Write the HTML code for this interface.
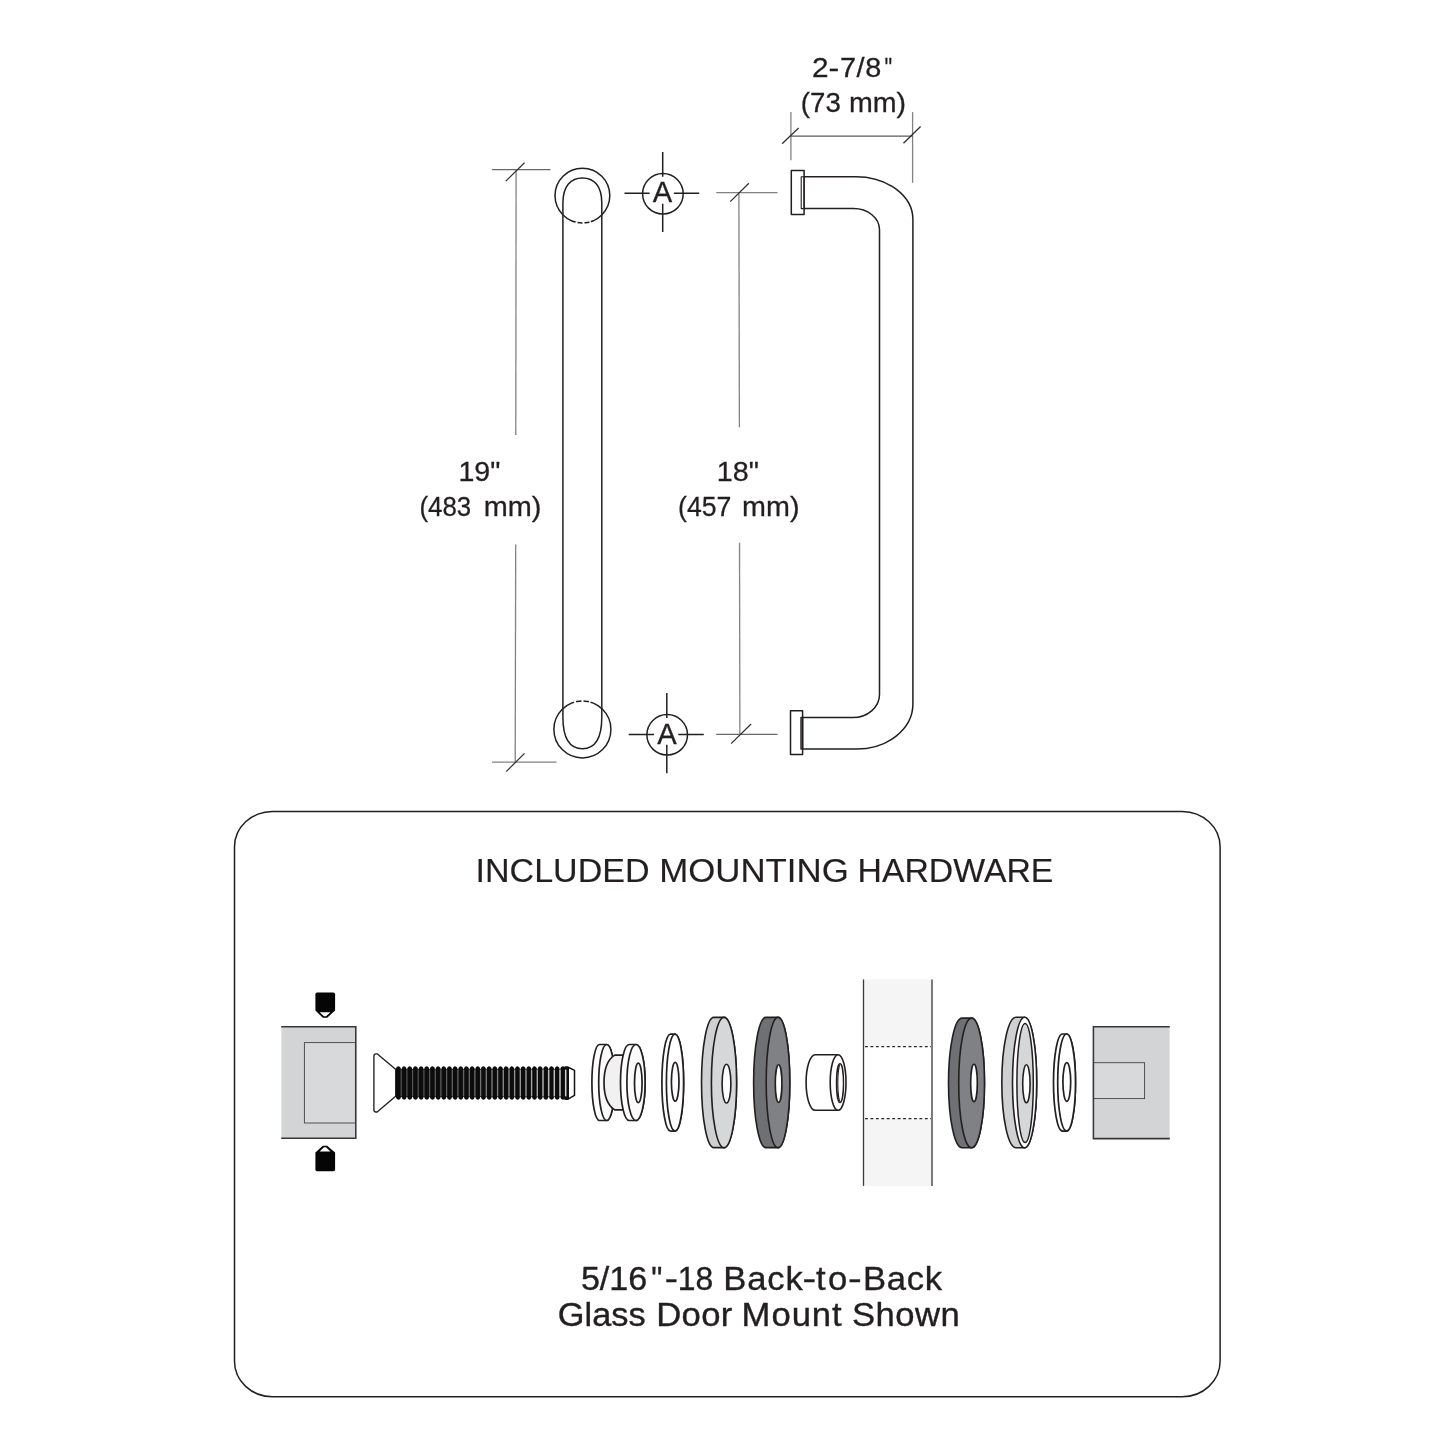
<!DOCTYPE html>
<html>
<head>
<meta charset="utf-8">
<title>Pull Handle Dimensions</title>
<style>
html,body{margin:0;padding:0;background:#fff;}
body{width:1445px;height:1445px;overflow:hidden;font-family:"Liberation Sans",sans-serif;}
svg{display:block;position:absolute;left:0;top:0;will-change:transform;}
text{font-family:"Liberation Sans",sans-serif;fill:#231f20;stroke:#231f20;stroke-width:0.28;}
.dim{stroke:#858183;stroke-width:1.3;fill:none;}
.tick{stroke:#2e2c2d;stroke-width:1.2;fill:none;}
.ol{stroke:#231f20;stroke-width:1.5;fill:none;stroke-linecap:round;stroke-linejoin:round;}
.ol2{stroke:#231f20;stroke-width:1.5;fill:none;}
.t27{font-size:27px;text-anchor:middle;}
</style>
</head>
<body>
<svg width="1445" height="1445" viewBox="0 0 1445 1445">

<!-- ===== TOP DIMENSION 2-7/8" ===== -->
<g id="dim-top">
  <line class="dim" x1="790.9" y1="112.1" x2="790.9" y2="160.3"/>
  <line class="dim" x1="912.6" y1="112.1" x2="912.6" y2="182.8"/>
  <line class="dim" x1="790.9" y1="136.2" x2="912.6" y2="136.2" style="stroke:#5c5a5b"/>
  <line class="tick" x1="782.1" y1="143.8" x2="798.6" y2="128"/>
  <line class="tick" x1="903.5" y1="143.3" x2="920.6" y2="126.5"/>
</g>

<!-- ===== LEFT DIMENSION 19" ===== -->
<g id="dim-19">
  <line class="dim" x1="492.1" y1="169.6" x2="550.4" y2="169.6" style="stroke:#6a6869"/>
  <line class="dim" x1="492" y1="762.1" x2="556.5" y2="762.1"/>
  <line class="dim" x1="516.1" y1="169.6" x2="515.8" y2="435"/>
  <line class="dim" x1="515.7" y1="544.4" x2="515.2" y2="762.1"/>
  <line class="tick" x1="505.8" y1="181.1" x2="524.5" y2="162.7"/>
  <line class="tick" x1="506.2" y1="771.7" x2="524.5" y2="753.3"/>
</g>

<!-- ===== RIGHT DIMENSION 18" ===== -->
<g id="dim-18">
  <line class="dim" x1="716.3" y1="192.7" x2="777.5" y2="192.7"/>
  <line class="dim" x1="716.2" y1="734.4" x2="777.5" y2="734.4" style="stroke:#6a6869"/>
  <line class="dim" x1="738.9" y1="192.7" x2="739.4" y2="427.3"/>
  <line class="dim" x1="739.5" y1="542.7" x2="739.9" y2="734.4"/>
  <line class="tick" x1="730.2" y1="201.6" x2="748.9" y2="183.3"/>
  <line class="tick" x1="731.1" y1="743.6" x2="751.1" y2="724"/>
</g>

<!-- ===== FRONT VIEW HANDLE ===== -->
<g id="front-view">
  <path class="ol" d="M562.9 717 V203 C562.9 186 571 177.9 582.4 177.9 C594 177.9 601.8 186 601.8 203 V717 C601.8 741 593.5 748.7 582.4 748.7 C571.3 748.7 562.9 741 562.9 717 Z" style="fill:#fff"/>
  <circle class="ol" cx="582.4" cy="195.6" r="27.4"/>
  <circle class="ol" cx="582.4" cy="729.4" r="28.5"/>
  <path d="M575.5 222.6 L577.5 223 M582.5 223.3 L584.5 223.2 M589.5 222.4 L591 222" stroke="#fff" stroke-width="2.6" fill="none"/>
  <path d="M574 702 L576 701.5 M581.5 700.8 L583.5 700.8 M589 701.5 L590.5 701.9" stroke="#fff" stroke-width="2.6" fill="none"/>
</g>

<!-- ===== A MARKERS ===== -->
<g id="a-markers">
  <circle class="ol2" cx="662.9" cy="193.8" r="20.3"/>
  <path class="ol2" d="M624.5 193.3 H649.6 M673.9 193.3 H699.2 M662.7 151.9 V176.8 M662.7 203.8 V232"/>
  <text x="662.4" y="202.1" font-size="29.2" text-anchor="middle" style="stroke-width:0.3">A</text>
  <circle class="ol2" cx="667.2" cy="734.8" r="20.3"/>
  <path class="ol2" d="M628.7 734.4 H654 M678.3 734.4 H703.8 M666.8 693.1 V718 M666.8 744.8 V773.2"/>
  <text x="667.05" y="743.8" font-size="29.2" text-anchor="middle" style="stroke-width:0.3">A</text>
</g>

<!-- ===== SIDE VIEW HANDLE ===== -->
<g id="side-view">
  <rect class="ol" x="791.3" y="170.5" width="12.8" height="44"/>
  <rect class="ol" x="801.2" y="176.7" width="2.9" height="31.9" style="stroke-width:1.1"/>
  <rect class="ol" x="790.5" y="710.7" width="12.1" height="43.8"/>
  <rect class="ol" x="801.0" y="717.5" width="1.6" height="31.6" style="stroke-width:1.4"/>
  <path class="ol" d="M804.1 176.7 H855.8 A57 42.8 0 0 1 912.9 219.5 V704 A56.2 45 0 0 1 856.7 749 H802.6"/>
  <path class="ol" d="M804.1 208.6 H853.5 A26 21 0 0 1 879.5 229.6 V694.6 A26.8 23 0 0 1 852.7 717.6 H802.6"/>
</g>

<!-- ===== HARDWARE BOX ===== -->
<g id="hw-box">
  <rect x="234.5" y="811.4" width="985.6" height="585.4" rx="38" ry="35.5" fill="none" stroke="#231f20" stroke-width="1.5"/>
</g>

<g id="labels">
<text transform="translate(812.0 77.4) scale(1.104 1)" font-size="27">2</text>
<text transform="translate(828.6 77.4) scale(1.186 1)" font-size="27">-</text>
<text transform="translate(839.9 77.4) scale(1.070 1)" font-size="27" letter-spacing="0.60">7/8</text>
<text transform="translate(884.6 77.4) scale(0.800 1)" font-size="27">&quot;</text>
<text transform="translate(800.8 112.1) scale(1.025 1)" font-size="27">(73</text>
<text transform="translate(849.0 112.1) scale(1.059 1)" font-size="27">mm)</text>
<text transform="translate(458.4 480.9) scale(1.059 1)" font-size="27">19&quot;</text>
<text transform="translate(419.5 515.9) scale(0.957 1)" font-size="27">(483</text>
<text transform="translate(483.7 515.9) scale(1.069 1)" font-size="27">mm)</text>
<text transform="translate(716.7 480.8) scale(1.065 1)" font-size="27">18&quot;</text>
<text transform="translate(678.1 515.6) scale(0.987 1)" font-size="27">(457</text>
<text transform="translate(742.1 515.6) scale(1.063 1)" font-size="27">mm)</text>
<text transform="translate(475.6 882.3) scale(1.025 1)" font-size="33.2" style="stroke-width:0.15">INCLUDED</text>
<text transform="translate(659.2 882.3) scale(1.049 1)" font-size="33.2" style="stroke-width:0.15">MOUNTING</text>
<text transform="translate(857.5 882.3) scale(1.018 1)" font-size="33.2" style="stroke-width:0.15">HARDWARE</text>
<text transform="translate(580.9 1289.6) scale(1.052 1)" font-size="32.4" style="stroke-width:0.36">5/16</text>
<text transform="translate(651.3 1289.6) scale(0.967 1)" font-size="32.4" style="stroke-width:0.36">&quot;</text>
<text transform="translate(664.8 1289.6) scale(1.224 1)" font-size="32.4" style="stroke-width:0.36">-</text>
<text transform="translate(677.8 1289.6) scale(0.985 1)" font-size="32.4" style="stroke-width:0.36">18</text>
<text transform="translate(723.3 1289.6) scale(1.070 1)" font-size="32.4" letter-spacing="0.74" style="stroke-width:0.36">Back</text>
<text transform="translate(802.6 1289.6) scale(1.261 1)" font-size="32.4" style="stroke-width:0.36">-</text>
<text transform="translate(815.9 1289.6) scale(1.070 1)" font-size="32.4" letter-spacing="2.35" style="stroke-width:0.36">to</text>
<text transform="translate(847.9 1289.6) scale(1.273 1)" font-size="32.4" style="stroke-width:0.36">-</text>
<text transform="translate(863.0 1289.6) scale(1.070 1)" font-size="32.4" letter-spacing="0.61" style="stroke-width:0.36">Back</text>
<text transform="translate(557.8 1325.5) scale(1.060 1)" font-size="32.4" style="stroke-width:0.36">Glass</text>
<text transform="translate(656.3 1325.5) scale(1.070 1)" font-size="32.4" letter-spacing="0.27" style="stroke-width:0.36">Door</text>
<text transform="translate(741.6 1325.5) scale(1.070 1)" font-size="32.4" letter-spacing="0.88" style="stroke-width:0.36">Mount</text>
<text transform="translate(851.9 1325.5) scale(1.070 1)" font-size="32.4" letter-spacing="0.46" style="stroke-width:0.36">Shown</text>
</g>

<!-- HW-START -->
<g id="block-left">
<rect x="281.4" y="1026.8" width="74.4" height="111.4" fill="#d3d4d6"/>
<rect x="304.4" y="1042.6" width="51" height="80.4" fill="#d8d9da" stroke="#454345" stroke-width="0.9"/>
<path d="M281.2 1026.8 H355.8 V1138.2 H281.2" fill="none" stroke="#383637" stroke-width="1.55"/>
</g>
<g id="set-screws">
<path d="M317 992.6 H333.4 Q335.1 992.6 335.1 994.3 V1010.6 L327.2 1017.8 H322.8 L315.4 1010.6 V994.3 Q315.4 992.6 317 992.6 Z" fill="#050505"/>
<path d="M319.6 1012.2 H330.4 L326 1016.2 H324 Z" fill="#fff"/>
<path d="M317 1171.3 H333.4 Q335.1 1171.3 335.1 1169.6 V1152.6 L327.2 1145.7 H322.8 L315.4 1152.6 V1169.6 Q315.4 1171.3 317 1171.3 Z" fill="#050505"/>
<path d="M319.6 1151.4 H330.4 L326 1147.3 H324 Z" fill="#fff"/>
</g>
<g id="screw">
<path d="M373.9 1056 Q373.9 1053.8 376 1053.8 H377.2 L395.9 1069.6 V1096 L377.2 1112 H376 Q373.9 1112 373.9 1109.8 Z" fill="#fff" stroke="#231f20" stroke-width="1.35" stroke-linejoin="round"/>
<path d="M395.4 1069 L395.9 1069 C396.7 1065 400.2 1065.6 401 1069 L401.6 1069 C402.4 1065 405.8 1065.6 406.6 1069 L407.2 1069 C408 1065 411.5 1065.6 412.3 1069 L412.9 1069 C413.7 1065 417.2 1065.6 418 1069 L418.6 1069 C419.4 1065 422.9 1065.6 423.6 1069 L424.2 1069 C425.1 1065 428.5 1065.6 429.3 1069 L429.9 1069 C430.7 1065 434.2 1065.6 435 1069 L435.6 1069 C436.4 1065 439.9 1065.6 440.7 1069 L441.3 1069 C442.1 1065 445.5 1065.6 446.3 1069 L446.9 1069 C447.7 1065 451.2 1065.6 452 1069 L452.6 1069 C453.4 1065 456.9 1065.6 457.7 1069 L458.3 1069 C459.1 1065 462.5 1065.6 463.3 1069 L463.9 1069 C464.7 1065 468.2 1065.6 469 1069 L469.6 1069 C470.4 1065 473.9 1065.6 474.7 1069 L475.3 1069 C476.1 1065 479.6 1065.6 480.3 1069 L480.9 1069 C481.8 1065 485.2 1065.6 486 1069 L486.6 1069 C487.4 1065 490.9 1065.6 491.7 1069 L492.3 1069 C493.1 1065 496.6 1065.6 497.4 1069 L498 1069 C498.8 1065 502.2 1065.6 503 1069 L503.6 1069 C504.4 1065 507.9 1065.6 508.7 1069 L509.3 1069 C510.1 1065 513.6 1065.6 514.4 1069 L515 1069 C515.8 1065 519.2 1065.6 520 1069 L520.6 1069 C521.4 1065 524.9 1065.6 525.7 1069 L526.3 1069 C527.1 1065 530.6 1065.6 531.4 1069 L532 1069 C532.8 1065 536.2 1065.6 537 1069 L537.6 1069 C538.4 1065 541.9 1065.6 542.7 1069 L543.3 1069 C544.1 1065 547.6 1065.6 548.4 1069 L549 1069 C549.8 1065 553.3 1065.6 554.1 1069 L554.7 1069 C555.5 1065 558.9 1065.6 559.7 1069 L560.3 1069 C561.1 1065 564.6 1065.6 565.4 1069 L565.5 1069 V1097 L565.4 1097 C564.6 1101 561.1 1100.4 560.3 1097 L559.7 1097 C558.9 1101 555.5 1100.4 554.7 1097 L554.1 1097 C553.3 1101 549.8 1100.4 549 1097 L548.4 1097 C547.6 1101 544.1 1100.4 543.3 1097 L542.7 1097 C541.9 1101 538.4 1100.4 537.6 1097 L537 1097 C536.2 1101 532.8 1100.4 532 1097 L531.4 1097 C530.6 1101 527.1 1100.4 526.3 1097 L525.7 1097 C524.9 1101 521.4 1100.4 520.6 1097 L520 1097 C519.2 1101 515.8 1100.4 515 1097 L514.4 1097 C513.6 1101 510.1 1100.4 509.3 1097 L508.7 1097 C507.9 1101 504.4 1100.4 503.6 1097 L503 1097 C502.2 1101 498.8 1100.4 498 1097 L497.4 1097 C496.6 1101 493.1 1100.4 492.3 1097 L491.7 1097 C490.9 1101 487.4 1100.4 486.6 1097 L486 1097 C485.2 1101 481.8 1100.4 480.9 1097 L480.3 1097 C479.6 1101 476.1 1100.4 475.3 1097 L474.7 1097 C473.9 1101 470.4 1100.4 469.6 1097 L469 1097 C468.2 1101 464.7 1100.4 463.9 1097 L463.3 1097 C462.5 1101 459.1 1100.4 458.3 1097 L457.7 1097 C456.9 1101 453.4 1100.4 452.6 1097 L452 1097 C451.2 1101 447.7 1100.4 446.9 1097 L446.3 1097 C445.5 1101 442.1 1100.4 441.3 1097 L440.7 1097 C439.9 1101 436.4 1100.4 435.6 1097 L435 1097 C434.2 1101 430.7 1100.4 429.9 1097 L429.3 1097 C428.5 1101 425.1 1100.4 424.2 1097 L423.6 1097 C422.9 1101 419.4 1100.4 418.6 1097 L418 1097 C417.2 1101 413.7 1100.4 412.9 1097 L412.3 1097 C411.5 1101 408 1100.4 407.2 1097 L406.6 1097 C405.8 1101 402.4 1100.4 401.6 1097 L401 1097 C400.2 1101 396.7 1100.4 395.9 1097 L395.4 1097 Z" fill="#0c0c0c"/>
<path d="M565 1067 H567.6 L574.5 1070.4 V1095.3 L567.6 1099.3 H565 Z" fill="#fff" stroke="#111" stroke-width="1.5" stroke-linejoin="round"/>
<rect x="564.9" y="1067.2" width="4.1" height="31.9" fill="#0c0c0c"/>
<line x1="401.2" y1="1069.6" x2="401.2" y2="1096.4" stroke="rgb(85,85,85)" stroke-width="1.2"/>
<line x1="406.9" y1="1069.6" x2="406.9" y2="1096.4" stroke="rgb(85,85,85)" stroke-width="1.2"/>
<line x1="412.6" y1="1069.6" x2="412.6" y2="1096.4" stroke="rgb(85,85,85)" stroke-width="1.2"/>
<line x1="418.2" y1="1069.6" x2="418.2" y2="1096.4" stroke="rgb(86,86,86)" stroke-width="1.2"/>
<line x1="423.9" y1="1069.6" x2="423.9" y2="1096.4" stroke="rgb(87,87,87)" stroke-width="1.2"/>
<line x1="429.6" y1="1069.6" x2="429.6" y2="1096.4" stroke="rgb(88,88,88)" stroke-width="1.3"/>
<line x1="435.3" y1="1069.6" x2="435.3" y2="1096.4" stroke="rgb(90,90,90)" stroke-width="1.3"/>
<line x1="440.9" y1="1069.6" x2="440.9" y2="1096.4" stroke="rgb(92,92,92)" stroke-width="1.3"/>
<line x1="446.6" y1="1069.6" x2="446.6" y2="1096.4" stroke="rgb(94,94,94)" stroke-width="1.3"/>
<line x1="452.3" y1="1069.6" x2="452.3" y2="1096.4" stroke="rgb(97,97,97)" stroke-width="1.3"/>
<line x1="457.9" y1="1069.6" x2="457.9" y2="1096.4" stroke="rgb(99,99,99)" stroke-width="1.3"/>
<line x1="463.6" y1="1069.6" x2="463.6" y2="1096.4" stroke="rgb(102,102,102)" stroke-width="1.3"/>
<line x1="469.3" y1="1069.6" x2="469.3" y2="1096.4" stroke="rgb(106,106,106)" stroke-width="1.3"/>
<line x1="474.9" y1="1069.6" x2="474.9" y2="1096.4" stroke="rgb(110,110,110)" stroke-width="1.3"/>
<line x1="480.6" y1="1069.6" x2="480.6" y2="1096.4" stroke="rgb(114,114,114)" stroke-width="1.3"/>
<line x1="486.3" y1="1069.6" x2="486.3" y2="1096.4" stroke="rgb(118,118,118)" stroke-width="1.4"/>
<line x1="492" y1="1069.6" x2="492" y2="1096.4" stroke="rgb(123,123,123)" stroke-width="1.4"/>
<line x1="497.6" y1="1069.6" x2="497.6" y2="1096.4" stroke="rgb(127,127,127)" stroke-width="1.4"/>
<line x1="503.3" y1="1069.6" x2="503.3" y2="1096.4" stroke="rgb(133,133,133)" stroke-width="1.4"/>
<line x1="509" y1="1069.6" x2="509" y2="1096.4" stroke="rgb(138,138,138)" stroke-width="1.4"/>
<line x1="514.6" y1="1069.6" x2="514.6" y2="1096.4" stroke="rgb(144,144,144)" stroke-width="1.4"/>
<line x1="520.3" y1="1069.6" x2="520.3" y2="1096.4" stroke="rgb(150,150,150)" stroke-width="1.4"/>
<line x1="526" y1="1069.6" x2="526" y2="1096.4" stroke="rgb(156,156,156)" stroke-width="1.4"/>
<line x1="531.6" y1="1069.6" x2="531.6" y2="1096.4" stroke="rgb(163,163,163)" stroke-width="1.4"/>
<line x1="537.3" y1="1069.6" x2="537.3" y2="1096.4" stroke="rgb(170,170,170)" stroke-width="1.4"/>
<line x1="543" y1="1069.6" x2="543" y2="1096.4" stroke="rgb(177,177,177)" stroke-width="1.5"/>
<line x1="548.7" y1="1069.6" x2="548.7" y2="1096.4" stroke="rgb(185,185,185)" stroke-width="1.5"/>
<line x1="554.3" y1="1069.6" x2="554.3" y2="1096.4" stroke="rgb(193,193,193)" stroke-width="1.5"/>
<line x1="560" y1="1069.6" x2="560" y2="1096.4" stroke="rgb(201,201,201)" stroke-width="1.5"/>
<line x1="565.7" y1="1069.6" x2="565.7" y2="1096.4" stroke="rgb(210,210,210)" stroke-width="1.5"/>
</g>
<g id="bushing">
<path d="M599.5 1044.5 A7.6 38 0 0 0 599.5 1120.5 L606.7 1120.5 A8 38 0 0 0 606.7 1044.5 Z" fill="#fff" stroke="#231f20" stroke-width="1.7" stroke-linejoin="round"/>
<ellipse cx="606.7" cy="1082.5" rx="8" ry="38" fill="#fbfbfb" stroke="#231f20" stroke-width="1.7"/>
<path d="M626 1055.1 H614.7 C607 1060 604 1070 604 1082.5 C604 1095 607 1105 614.7 1109.9 H626 Z" fill="#f1f1f2" stroke="#231f20" stroke-width="1.7" stroke-linejoin="round"/>
<path d="M629.2 1044.5 A8.7 38 0 0 0 629.2 1120.5 L636 1120.5 A9.1 38 0 0 0 636 1044.5 Z" fill="#fff" stroke="#231f20" stroke-width="1.7" stroke-linejoin="round"/>
<ellipse cx="636" cy="1082.5" rx="9.1" ry="38" fill="#fbfbfb" stroke="#231f20" stroke-width="1.7"/>
<ellipse cx="638.3" cy="1082.9" rx="3.8" ry="19.8" fill="#fff" stroke="#231f20" stroke-width="1.7"/>
</g>
<g id="washer-small-l">
<path d="M670.5 1034.2 A8.6 48.5 0 0 0 670.5 1131.2 L675 1131.2 A8.6 48.5 0 0 0 675 1034.2 Z" fill="#fff" stroke="#231f20" stroke-width="1.7" stroke-linejoin="round"/>
<ellipse cx="675" cy="1082.7" rx="8.6" ry="48.5" fill="#fff" stroke="#231f20" stroke-width="1.7"/>
<ellipse cx="675.2" cy="1081.8" rx="3.8" ry="19.4" fill="#fff" stroke="#231f20" stroke-width="1.7"/>
</g>
<g id="washer-light-l">
<path d="M713.8 1017.4 A12.3 65.1 0 0 0 713.8 1147.6 L724 1147.6 A12.6 65.1 0 0 0 724 1017.4 Z" fill="#cfd0d2" stroke="#231f20" stroke-width="1.6" stroke-linejoin="round"/>
<ellipse cx="724" cy="1082.5" rx="12.6" ry="65.1" fill="#d6d7d8" stroke="#231f20" stroke-width="1.6"/>
<ellipse cx="726.5" cy="1083.6" rx="4.4" ry="19.4" fill="#fff" stroke="#231f20" stroke-width="1.6"/>
</g>
<g id="washer-dark-l">
<path d="M765.9 1017.4 A12.3 65.1 0 0 0 765.9 1147.6 L778 1147.6 A11.8 65.1 0 0 0 778 1017.4 Z" fill="#6f7073" stroke="#231f20" stroke-width="1.6" stroke-linejoin="round"/>
<ellipse cx="778" cy="1082.5" rx="11.8" ry="65.1" fill="#808184" stroke="#231f20" stroke-width="1.6"/>
<ellipse cx="778.6" cy="1083.6" rx="3.3" ry="18.8" fill="#fff" stroke="#231f20" stroke-width="1.6"/>
</g>
<g id="spacer">
<path d="M838.1 1054.7 H815.2 A9.1 27.8 0 0 0 815.2 1110.3 H838.1 Z" fill="#fff" stroke="#231f20" stroke-width="1.6" stroke-linejoin="round"/>
<ellipse cx="838.1" cy="1082.5" rx="7.9" ry="27.8" fill="#fff" stroke="#231f20" stroke-width="1.6"/>
<ellipse cx="840" cy="1083.1" rx="3.5" ry="19.5" fill="#fff" stroke="#231f20" stroke-width="1.4"/>
<path d="M840.4 1064.6 A2.6 18.5 0 0 0 840.4 1101.6" fill="none" stroke="#231f20" stroke-width="1.1"/>
</g>
<g id="glass">
<rect x="863.5" y="979.4" width="68.5" height="206.5" fill="#f5f5f6"/>
<rect x="864" y="1046.7" width="68" height="71.9" fill="#fff"/>
<line x1="863.5" y1="979.4" x2="863.5" y2="1185.9" stroke="#3c3a3b" stroke-width="1.3"/>
<line x1="932" y1="979.4" x2="932" y2="1185.9" stroke="#6e6c6d" stroke-width="1.8"/>
<line x1="865" y1="1046.7" x2="931" y2="1046.7" stroke="#2a2829" stroke-width="1.3" stroke-dasharray="2.9 2.54"/>
<line x1="865" y1="1118.6" x2="931" y2="1118.6" stroke="#2a2829" stroke-width="1.3" stroke-dasharray="2.9 2.54"/>
</g>
<g id="washer-dark-r">
<path d="M962.1 1018.1 A13.6 64.8 0 0 0 962.1 1147.7 L971.6 1147.7 A12.9 64.8 0 0 0 971.6 1018.1 Z" fill="#6f7073" stroke="#231f20" stroke-width="1.6" stroke-linejoin="round"/>
<ellipse cx="971.6" cy="1082.9" rx="12.9" ry="64.8" fill="#808184" stroke="#231f20" stroke-width="1.6"/>
<ellipse cx="974" cy="1082.9" rx="3.3" ry="18.7" fill="#fff" stroke="#231f20" stroke-width="1.6"/>
</g>
<g id="washer-light-r">
<path d="M1016 1017.3 A14.2 65.2 0 0 0 1016 1147.7 L1024.6 1147.7 A12.1 65.2 0 0 0 1024.6 1017.3 Z" fill="#cfd0d2" stroke="#231f20" stroke-width="1.6" stroke-linejoin="round"/>
<ellipse cx="1024.6" cy="1082.5" rx="12.1" ry="65.2" fill="#fff" stroke="#231f20" stroke-width="1.6"/>
<ellipse cx="1025.1" cy="1083" rx="8.2" ry="59.6" fill="#d6d7d8" stroke="#231f20" stroke-width="1.5"/>
<ellipse cx="1026.4" cy="1083.8" rx="3.7" ry="19" fill="#fff" stroke="#231f20" stroke-width="1.6"/>
</g>
<g id="washer-small-r">
<path d="M1062.4 1034 A8.9 48.6 0 0 0 1062.4 1131.2 L1066.6 1131.2 A8.9 48.6 0 0 0 1066.6 1034 Z" fill="#fff" stroke="#231f20" stroke-width="1.7" stroke-linejoin="round"/>
<ellipse cx="1066.6" cy="1082.6" rx="8.9" ry="48.6" fill="#fff" stroke="#231f20" stroke-width="1.7"/>
<ellipse cx="1066.8" cy="1082" rx="3.9" ry="19.3" fill="#fff" stroke="#231f20" stroke-width="1.7"/>
</g>
<g id="block-right">
<rect x="1093.4" y="1026.8" width="76.2" height="111.8" fill="#d3d4d6"/>
<rect x="1093.4" y="1062.7" width="51.2" height="35.9" fill="#d8d9da" stroke="#454345" stroke-width="0.9"/>
<path d="M1169.8 1026.8 H1093.4 V1138.6 H1169.8" fill="none" stroke="#383637" stroke-width="1.55"/>
</g>
<!-- HW-END -->

</svg>
</body>
</html>
